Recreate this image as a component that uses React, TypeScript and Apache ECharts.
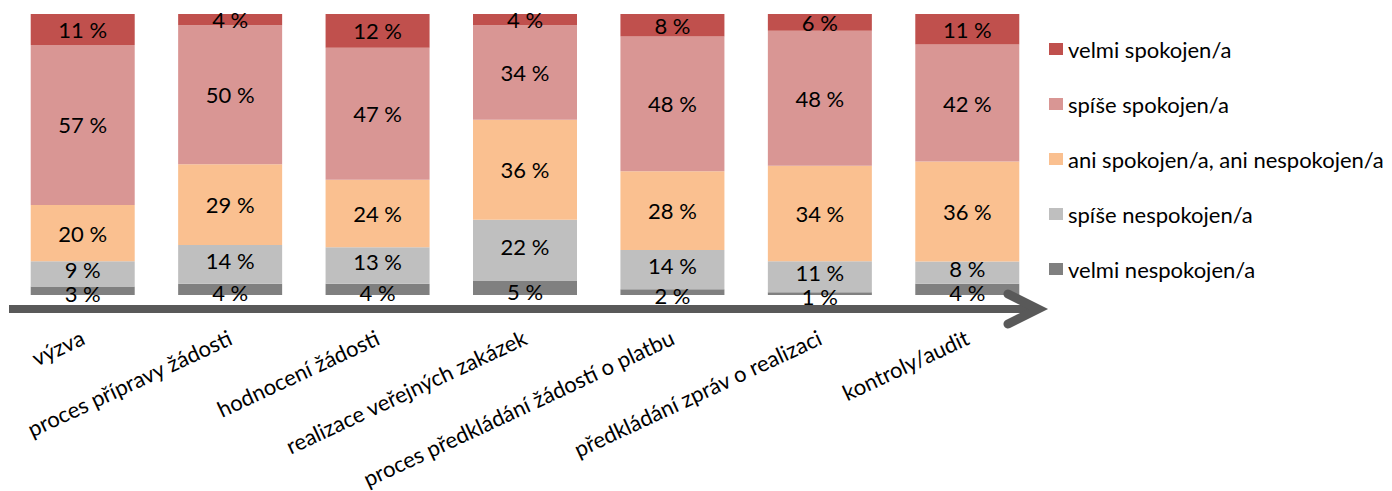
import React, { useEffect, useRef } from "react";
import * as echarts from "echarts";

const categories = [
  "výzva",
  "proces přípravy žádosti",
  "hodnocení žádosti",
  "realizace veřejných zakázek",
  "proces předkládání žádostí o platbu",
  "předkládání zpráv o realizaci",
  "kontroly/audit",
];

const seriesNames = [
  "velmi spokojen/a",
  "spíše spokojen/a",
  "ani spokojen/a, ani nespokojen/a",
  "spíše nespokojen/a",
  "velmi nespokojen/a",
];

const velmiSpokojen = [11, 4, 12, 4, 8, 6, 11];
const spiseSpokojen = [57, 50, 47, 34, 48, 48, 42];
const aniAni = [20, 29, 24, 36, 28, 34, 36];
const spiseNespokojen = [9, 14, 13, 22, 14, 11, 8];
const velmiNespokojen = [3, 4, 4, 5, 2, 1, 4];

const colors = ["#C0504D", "#D99694", "#FAC090", "#BFBFBF", "#808080"];

const FONT = "Lato";

export default function App() {
  const ref = useRef<HTMLDivElement>(null);

  useEffect(() => {
    document.body.style.margin = "0";
    if (!ref.current) return;
    const chart = echarts.init(ref.current, undefined, { renderer: "svg" });

    const raw = [velmiSpokojen, spiseSpokojen, aniAni, spiseNespokojen, velmiNespokojen];
    const totals = categories.map((_, i) => raw.reduce((s, arr) => s + arr[i], 0));
    const labelOffsets: number[][] = [[0, 0], [0, 0], [0, 0], [0, -4], [0, 3]];

    // bottom-up stacking order
    const order = [4, 3, 2, 1, 0];
    const series = order.map((k) => ({
      name: seriesNames[k],
      type: "bar",
      stack: "total",
      barWidth: 104,
      itemStyle: { color: colors[k] },
      label: {
        show: true,
        position: "inside",
        offset: labelOffsets[k],
        color: "#000",
        fontFamily: FONT,
        fontSize: 22,
        lineHeight: 16,
        formatter: (p: any) => raw[k][p.dataIndex] + " %",
      },
      data: raw[k].map((v, i) => (v / totals[i]) * 100),
    }));

    chart.setOption({
      animation: false,
      grid: { left: 9, right: 351, top: 14, bottom: 196 },
      xAxis: {
        type: "category",
        data: categories,
        axisLine: { show: false },
        axisTick: { show: false },
        axisLabel: {
          rotate: 25,
          margin: 41,
          interval: 0,
          color: "#000",
          fontFamily: FONT,
          fontSize: 22,
        },
      },
      yAxis: { type: "value", min: 0, max: 100, show: false },
      legend: {
        orient: "vertical",
        left: 1044,
        top: 32,
        data: seriesNames,
        icon: "rect",
        itemWidth: 14,
        itemHeight: 12,
        itemGap: 31,
        itemTextGap: 6,
        textStyle: { color: "#000", fontFamily: FONT, fontSize: 22, lineHeight: 24 },
      },
      graphic: [
        {
          type: "line",
          shape: { x1: 9, y1: 309, x2: 1034, y2: 309 },
          style: { stroke: "#595959", lineWidth: 8 },
          z: 10,
        },
        {
          type: "polyline",
          shape: { points: [[1008, 294], [1038, 309], [1008, 324]] },
          style: { stroke: "#595959", lineWidth: 9, lineCap: "round", lineJoin: "miter", fill: null },
          z: 10,
        },
      ],
      series,
    });

    return () => chart.dispose();
  }, []);

  return <div ref={ref} style={{ width: 1392, height: 491 }} />;
}
